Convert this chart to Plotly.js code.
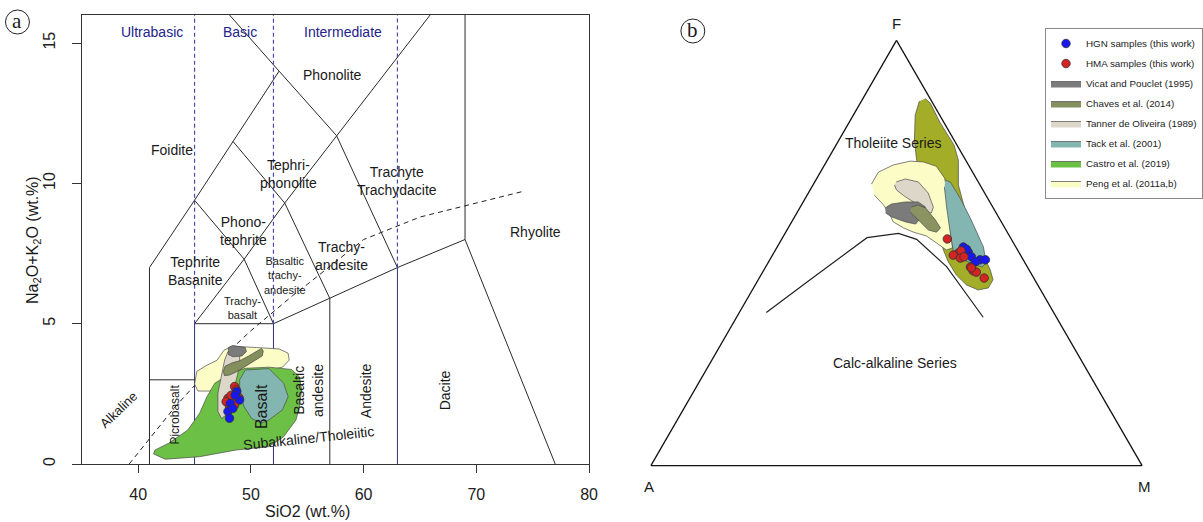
<!DOCTYPE html>
<html><head><meta charset="utf-8">
<script src="https://cdn.plot.ly/plotly-3.0.1.min.js"></script>
<style>html,body{margin:0;padding:0;background:#fff}#chart{width:1203px;height:522px}</style>
</head><body><div id="chart"></div>
<script>
// ---------- TAS axis ticks ----------
const sio2Ticks = [40, 50, 60, 70, 80];
const alkTicks = [0, 5, 10, 15];

// ---------- TAS boundary lines (SiO2, Na2O+K2O) ----------
const bFoidite   = [[41,0],[41,7],[45,9.4],[48.4,11.5],[52.5,14],[48.1,16]];
const bPicroTop  = [[41,3],[45,3]];
const bTrachyUp  = [[45,5],[49.4,7.3],[53,9.3],[57.6,11.7],[65.9,16]];
const bMain      = [[45,9.4],[49.4,7.3],[52,5],[57,5.9],[63,7],[69,8],[77,0]];
const bMid       = [[48.4,11.5],[53,9.3],[57,5.9],[57,0]];
const bPhono     = [[52.5,14],[57.6,11.7],[63,7]];
const bRhyolite  = [[69,8],[69,16]];
const bBasaltTop = [[45,5],[52,5]];
const bNavy      = [[[45,0],[45,5]],[[52,0],[52,5]],[[63,0],[63,7]]];
const bSilicaDash= [[[45,5],[45,16]],[[52,5],[52,16]],[[63,7],[63,16]]];
const alkDivSiO2 = [39.2, 40, 43.2, 45, 48, 50, 53.7, 55, 60, 65, 74];
const alkDivAlk  = [0, 0.4, 2.0, 2.8, 4.0, 4.75, 6.0, 6.4, 8.0, 8.8, 9.7];

// ---------- TAS fields of literature data ----------
const pengSiO2   = [45.0,45.2,46.0,47.0,47.6,48.3,50.5,52.5,53.3,53.4,52.8,51.0,48.5,46.5,45.3,45.0];
const pengAlk    = [2.85,3.3,3.5,3.7,4.05,4.2,4.15,4.1,3.95,3.7,3.45,3.3,2.8,2.6,2.6,2.85];
const castroSiO2 = [41.36,42.4,45.45,48.7,51.6,52.9,54.0,54.3,54.5,54.3,53.6,51.6,49.5,48.2,46.8,46.1,45.45,44.4,42.7,41.5,41.36];
const castroAlk  = [0.36,0.17,0.26,0.5,0.62,0.97,1.57,2.04,2.64,3.11,3.37,3.45,3.41,3.23,2.88,2.4,1.81,1.21,0.74,0.5,0.36];
const tackSiO2   = [49.5,51.6,52.9,53.3,52.8,51.6,50.9,50.05,49.4,49.0,49.0,49.5];
const tackAlk    = [3.35,3.4,2.88,2.4,1.93,1.57,1.45,1.63,2.04,2.52,3.0,3.35];
const tannerSiO2 = [47.96,48.5,49.0,49.0,48.7,48.1,47.8,47.4,47.07,47.07,47.37,47.67,47.96];
const tannerAlk  = [4.0,4.05,3.95,3.5,2.99,2.28,1.75,1.62,1.87,2.52,3.11,3.71,4.0];
const vicatSiO2  = [48.0,48.4,49.5,49.6,49.2,48.4,48.0,48.0];
const vicatAlk   = [4.15,4.22,4.15,4.0,3.85,3.82,3.9,4.15];
const chavesSiO2 = [47.55,47.7,48.3,49.0,49.8,50.5,50.95,51.1,51.0,50.4,49.6,48.8,48.1,47.65,47.55];
const chavesAlk  = [3.3,3.48,3.6,3.68,3.85,4.02,4.12,4.02,3.85,3.7,3.5,3.3,3.17,3.15,3.3];

// ---------- TAS samples ----------
const hmaSiO2 = [48.55,48.7,47.96,47.8,48.4,48.95,48.55,48.1,48.25];
const hmaAlk  = [2.76,2.64,2.34,2.22,2.28,2.36,2.1,2.04,2.45];
const hgnSiO2 = [48.75,49.0,48.17,47.96,48.1,48.4,48.6];
const hgnAlk  = [2.58,2.28,2.16,1.87,1.63,1.98,2.45];

// ---------- AFM (F, A, M fractions) ----------
const afmDivF = [0.360,0.429,0.536,0.546,0.532,0.468,0.349];
const afmDivA = [0.585,0.471,0.292,0.223,0.193,0.164,0.149];
const afmDivM = [0.055,0.100,0.172,0.231,0.275,0.368,0.502];

const castroF = [0.863,0.852,0.8075,0.7535,0.718,0.660,0.589,0.519,0.460,0.437,0.418,0.413,0.425,0.448,0.479,0.507,0.589,0.671,0.718,0.765,0.824,0.857];
const castroA = [0.010,0.005,0.008,0.006,0.015,0.044,0.063,0.074,0.079,0.085,0.104,0.127,0.145,0.154,0.155,0.151,0.130,0.110,0.100,0.081,0.050,0.025];
const castroM = [0.127,0.143,0.1845,0.2405,0.267,0.296,0.348,0.407,0.461,0.478,0.478,0.460,0.430,0.398,0.366,0.342,0.281,0.219,0.182,0.154,0.126,0.118];
const pengF = [0.662,0.690,0.707,0.716,0.714,0.704,0.676,0.624,0.566,0.512,0.507,0.524,0.540,0.549,0.559,0.573,0.596,0.613,0.636];
const pengA = [0.220,0.192,0.153,0.114,0.088,0.067,0.064,0.082,0.108,0.130,0.145,0.157,0.169,0.191,0.206,0.220,0.218,0.220,0.227];
const pengM = [0.118,0.118,0.140,0.170,0.198,0.229,0.260,0.294,0.326,0.358,0.348,0.319,0.291,0.260,0.235,0.207,0.186,0.167,0.137];
const tannerF = [0.667,0.674,0.667,0.641,0.608,0.594,0.596,0.613,0.632,0.648,0.660];
const tannerA = [0.167,0.145,0.122,0.115,0.121,0.132,0.143,0.149,0.166,0.176,0.174];
const tannerM = [0.166,0.181,0.211,0.244,0.271,0.274,0.261,0.238,0.202,0.176,0.166];
const vicatF = [0.606,0.615,0.620,0.620,0.608,0.585,0.568,0.573,0.585,0.594];
const vicatA = [0.220,0.203,0.172,0.146,0.137,0.157,0.177,0.195,0.218,0.225];
const vicatM = [0.174,0.182,0.208,0.234,0.255,0.258,0.255,0.232,0.197,0.181];
const chavesF = [0.608,0.613,0.606,0.578,0.559,0.549,0.554,0.578,0.596];
const chavesA = [0.166,0.149,0.138,0.132,0.131,0.144,0.158,0.167,0.174];
const chavesM = [0.226,0.238,0.256,0.290,0.310,0.307,0.288,0.255,0.230];
const tackF = [0.671,0.667,0.629,0.578,0.514,0.477,0.467,0.479,0.491,0.502,0.547,0.608,0.655];
const tackA = [0.065,0.057,0.056,0.059,0.066,0.079,0.092,0.114,0.129,0.133,0.117,0.094,0.075];
const tackM = [0.264,0.276,0.315,0.363,0.420,0.444,0.441,0.407,0.380,0.365,0.336,0.298,0.270];

const hgnF = [0.514,0.502,0.491,0.484,0.484,0.479,0.509];
const hgnA = [0.107,0.103,0.102,0.088,0.077,0.100,0.103];
const hgnM = [0.379,0.395,0.407,0.428,0.439,0.421,0.388];
const hmaF = [0.533,0.500,0.495,0.505,0.488,0.467,0.458,0.455,0.441,0.491,0.465];
const hmaA = [0.130,0.124,0.137,0.116,0.126,0.116,0.115,0.110,0.101,0.117,0.115];
const hmaM = [0.337,0.376,0.368,0.379,0.386,0.417,0.427,0.435,0.458,0.392,0.420];

// ---------- legend names ----------
const names = ['HGN samples (this work)','HMA samples (this work)','Vicat and Pouclet (1995)','Chaves et al. (2014)',
  'Tanner de Oliveira (1989)','Tack et al. (2001)','Castro et al. (2019)','Peng et al. (2011a,b)'];

// ---------- build ----------
const FONT = 'Liberation Sans, Arial, Helvetica, sans-serif';
const COL = {hgn:'#1717f2', hma:'#d42323', vicat:'#7b7b7b', chaves:'#858e5d', chavesT:'#8a9361', tanner:'#dcd7c9',
  tack:'#84b6b1', castro:'#6cc045', castroT:'#a3ad27', peng:'#fcfcc6'};
const EDGE = '#4a4a4a';

function joinSegs(segs){ const x=[],y=[]; segs.forEach((s,i)=>{ if(i){x.push(null);y.push(null);} s.forEach(p=>{x.push(p[0]);y.push(p[1]);}); }); return {x,y}; }

const traces = [];
const solid = joinSegs([bFoidite,bPicroTop,bTrachyUp,bMain,bMid,bPhono,bRhyolite,bBasaltTop]);
traces.push({type:'scatter',mode:'lines',x:solid.x,y:solid.y,line:{color:'#2a2a2a',width:1},showlegend:false,hoverinfo:'skip'});
const navy = joinSegs(bNavy);
traces.push({type:'scatter',mode:'lines',x:navy.x,y:navy.y,line:{color:'#30307a',width:1},showlegend:false,hoverinfo:'skip'});
const sdash = joinSegs(bSilicaDash);
traces.push({type:'scatter',mode:'lines',x:sdash.x,y:sdash.y,line:{color:'#4a4aa8',width:1.2,dash:'4px,3px'},showlegend:false,hoverinfo:'skip'});
traces.push({type:'scatter',mode:'lines',x:alkDivSiO2,y:alkDivAlk,line:{color:'#222',width:1,dash:'5px,4px'},showlegend:false,hoverinfo:'skip'});

function poly(x,y,color,name,rank,show){ return {type:'scatter',mode:'lines',x,y,fill:'toself',fillcolor:color,
  line:{color:EDGE,width:0.7},name,legendgroup:name,legendrank:rank,showlegend:show}; }
traces.push(poly(pengSiO2,pengAlk,COL.peng,names[7],8,true));
traces.push(poly(castroSiO2,castroAlk,COL.castro,names[6],7,true));
traces.push(poly(tackSiO2,tackAlk,COL.tack,names[5],6,true));
traces.push(poly(tannerSiO2,tannerAlk,COL.tanner,names[4],5,true));
traces.push(poly(vicatSiO2,vicatAlk,COL.vicat,names[2],3,true));
traces.push(poly(chavesSiO2,chavesAlk,COL.chaves,names[3],4,true));
const mk = c => ({color:c,size:8.5,line:{color:'#333',width:0.8}});
traces.push({type:'scatter',mode:'markers',x:hmaSiO2,y:hmaAlk,marker:mk(COL.hma),name:names[1],legendgroup:names[1],legendrank:2});
traces.push({type:'scatter',mode:'markers',x:hgnSiO2,y:hgnAlk,marker:mk(COL.hgn),name:names[0],legendgroup:names[0],legendrank:1});

// ternary
function tpoly(a,b,c,color,name){ return {type:'scatterternary',subplot:'ternary',mode:'lines',a,b,c,fill:'toself',fillcolor:color,
  line:{color:EDGE,width:0.7},name,legendgroup:name,showlegend:false}; }
traces.push({type:'scatterternary',subplot:'ternary',mode:'lines',a:afmDivF,b:afmDivA,c:afmDivM,line:{color:'#222',width:1.2},showlegend:false,hoverinfo:'skip'});
traces.push(tpoly(castroF,castroA,castroM,COL.castroT,names[6]));
traces.push(tpoly(pengF,pengA,pengM,COL.peng,names[7]));
traces.push(tpoly(tannerF,tannerA,tannerM,COL.tanner,names[4]));
traces.push(tpoly(vicatF,vicatA,vicatM,COL.vicat,names[2]));
traces.push(tpoly(chavesF,chavesA,chavesM,COL.chavesT,names[3]));
traces.push(tpoly(tackF,tackA,tackM,COL.tack,names[5]));
traces.push({type:'scatterternary',subplot:'ternary',mode:'markers',a:hgnF,b:hgnA,c:hgnM,marker:mk(COL.hgn),name:names[0],legendgroup:names[0],showlegend:false});
traces.push({type:'scatterternary',subplot:'ternary',mode:'markers',a:hmaF,b:hmaA,c:hmaM,marker:mk(COL.hma),name:names[1],legendgroup:names[1],showlegend:false});

const NAVYTXT = '#23238a';
function lab(text,x,y,size,extra){ return Object.assign({text,x,y,xref:'x',yref:'y',showarrow:false,xanchor:'center',yanchor:'middle',
  font:{family:FONT,size,color:'#1a1a1a'}},extra||{}); }
function plab(text,px,py,size,family,angle){ return {text,x:px/1203,y:1-py/522,xref:'paper',yref:'paper',showarrow:false,
  xanchor:'center',yanchor:'middle',textangle:angle||0,font:{family:family||FONT,size,color:'#1a1a1a'}}; }
const SERIF = 'Liberation Serif, DejaVu Serif, serif';
const annotations = [
  lab('Ultrabasic',41.2,15.4,14,{font:{family:FONT,size:14,color:NAVYTXT}}),
  lab('Basic',49.0,15.4,14,{font:{family:FONT,size:14,color:NAVYTXT}}),
  lab('Intermediate',58.2,15.4,14,{font:{family:FONT,size:14,color:NAVYTXT}}),
  lab('Phonolite',57.2,13.87,14),
  lab('Foidite',43.0,11.2,14),
  lab('Tephri-<br>phonolite',53.3,10.35,14),
  lab('Trachyte<br>Trachydacite',63.0,10.1,14),
  lab('Phono-<br>tephrite',49.37,8.3,14),
  lab('Trachy-<br>andesite',58.0,7.42,14),
  lab('Rhyolite',75.26,8.26,14),
  lab('Tephrite<br>Basanite',45.1,6.89,14),
  lab('Basaltic<br>trachy-<br>andesite',53.0,6.72,11),
  lab('Trachy-<br>basalt',49.27,5.55,11),
  lab('Picrobasalt',43.24,1.75,12,{textangle:-90}),
  lab('Basalt',50.9,2.03,16,{textangle:-90}),
  lab('Basaltic',54.3,2.62,14,{textangle:-90}),
  lab('andesite',56.0,2.62,14,{textangle:-90}),
  lab('Andesite',60.27,2.62,14,{textangle:-90}),
  lab('Dacite',67.3,2.62,14,{textangle:-90}),
  lab('Alkaline',38.3,1.93,13,{textangle:-44}),
  lab('Subalkaline/Tholeiitic',55.16,0.92,14,{textangle:-6}),
  plab('SiO2 (wt.%)',308,511,16),
  plab('Na<sub>2</sub>O+K<sub>2</sub>O (wt.%)',33,240,16,FONT,-90),
  plab('Tholeiite Series',895,143,14),
  plab('Calc-alkaline Series',896,363,14),
  plab('F',898,24,15),
  plab('A',650,486,15),
  plab('M',1146,486,15),
  plab('a',17.5,21,21,SERIF),
  plab('b',694,30,21,SERIF)
];
const shapes = [
  {type:'circle',xref:'paper',yref:'paper',x0:5.5/1203,x1:29.5/1203,y0:1-34/522,y1:1-10/522,line:{color:'#222',width:1}},
  {type:'circle',xref:'paper',yref:'paper',x0:682/1203,x1:706/1203,y0:1-43/522,y1:1-19/522,line:{color:'#222',width:1}}
];

const tAx = () => ({title:{text:''},showticklabels:false,ticks:'',showgrid:false,linecolor:'#111',linewidth:1.3,min:0});
const layout = {
  width:1203,height:522,margin:{l:0,r:0,t:0,b:0},paper_bgcolor:'#fff',plot_bgcolor:'#fff',
  font:{family:FONT,color:'#222'},
  xaxis:{domain:[82/1203,590/1203],range:[35,80],tickvals:sio2Ticks,ticks:'outside',ticklen:8,tickcolor:'#333',
    showline:true,mirror:true,linecolor:'#333',linewidth:1,showgrid:false,zeroline:false,
    tickfont:{size:16,color:'#222'},ticklabelstandoff:8},
  yaxis:{domain:[1-464/522,1-15/522],range:[0,16],tickvals:alkTicks,ticks:'outside',ticklen:9,tickcolor:'#333',
    showline:true,mirror:true,linecolor:'#333',linewidth:1,showgrid:false,zeroline:false,tickangle:-90,
    tickfont:{size:16,color:'#222'},ticklabelstandoff:10},
  ternary:{domain:{x:[652/1203,1144/1203],y:[1-466/522,1-40/522]},sum:1,bgcolor:'rgba(0,0,0,0)',
    aaxis:tAx(),baxis:tAx(),caxis:tAx()},
  legend:{x:1047/1203,y:1-28/522,xanchor:'left',yanchor:'top',bordercolor:'#8a8a8a',borderwidth:1,bgcolor:'#fff',
    font:{family:FONT,size:9.8,color:'#222'},traceorder:'grouped',tracegroupgap:1},
  annotations,shapes
};
Plotly.newPlot('chart',traces,layout,{displayModeBar:false,staticPlot:true});
</script></body></html>
